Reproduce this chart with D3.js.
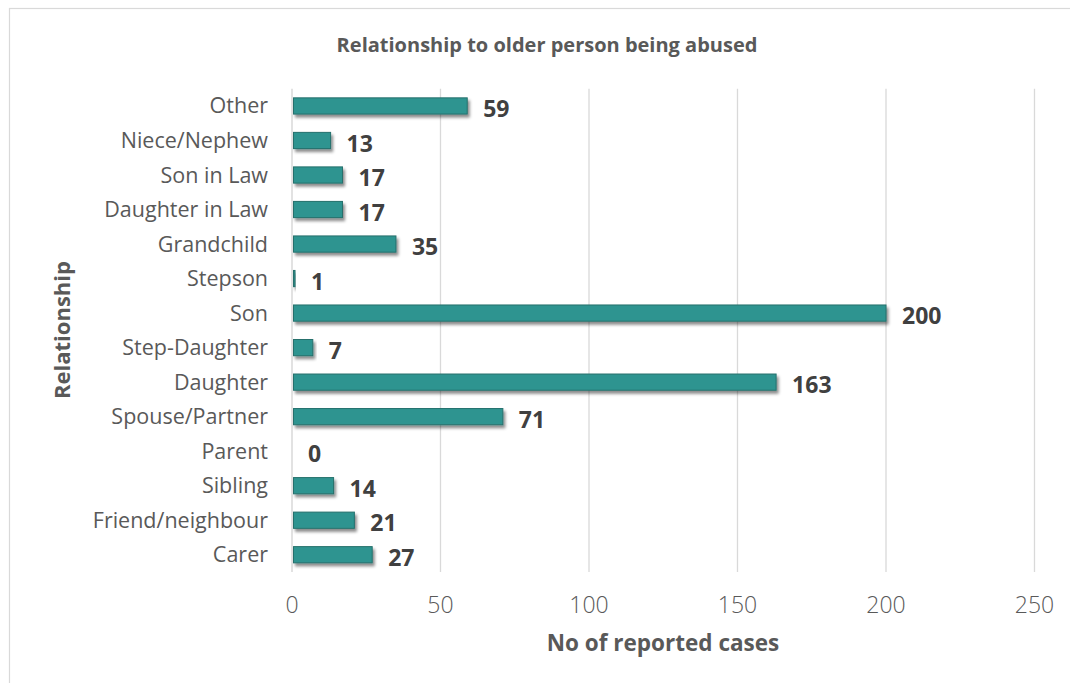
<!DOCTYPE html>
<html>
<head>
<meta charset="utf-8">
<script src="https://cdn.jsdelivr.net/npm/d3@7/dist/d3.min.js"></script>
<style>
  html, body { margin: 0; padding: 0; background: #fff; }
  svg { display: block; font-family: "Open Sans", "Noto Sans", sans-serif; }
</style>
</head>
<body>
<svg id="chart" width="1070" height="683"></svg>
<script>
// Relationship of the abuser to the older person, top to bottom
const categories = [
  "Other", "Niece/Nephew", "Son in Law", "Daughter in Law", "Grandchild",
  "Stepson", "Son", "Step-Daughter", "Daughter", "Spouse/Partner",
  "Parent", "Sibling", "Friend/neighbour", "Carer"
];
const cases = [59, 13, 17, 17, 35, 1, 200, 7, 163, 71, 0, 14, 21, 27];
const xTicks = [0, 50, 100, 150, 200, 250];

const titleText = "Relationship to older person being abused";
const xTitle = "No of reported cases";
const yTitle = "Relationship";

const svg = d3.select("#chart");
const W = 1070, H = 683;
const plot = { left: 292, right: 1034.5, top: 88.7, bottom: 572 };

// chart frame
svg.append("rect")
  .attr("x", 9.5).attr("y", 8.5)
  .attr("width", W + 10).attr("height", H + 10)
  .attr("fill", "#fff").attr("stroke", "#d9d9d9").attr("stroke-width", 1.2);

// soft drop shadow for the bars
const defs = svg.append("defs");
const f = defs.append("filter").attr("id", "barShadow")
  .attr("x", "-10%").attr("y", "-50%").attr("width", "130%").attr("height", "250%");
f.append("feDropShadow")
  .attr("dx", 2).attr("dy", 3).attr("stdDeviation", 1.8)
  .attr("flood-color", "#000").attr("flood-opacity", 0.45);

const x = d3.scaleLinear().domain([0, 250]).range([plot.left, plot.right]);
const y = d3.scaleBand().domain(categories)
  .range([plot.top, plot.bottom]).paddingInner(0.53).paddingOuter(0.265);

// vertical gridlines
svg.append("g").selectAll("line")
  .data(xTicks.filter(t => t > 0))
  .join("line")
  .attr("x1", d => x(d)).attr("x2", d => x(d))
  .attr("y1", plot.top).attr("y2", plot.bottom)
  .attr("stroke", "#d9d9d9").attr("stroke-width", 1.3);

// category axis line
svg.append("line")
  .attr("x1", x(0)).attr("x2", x(0))
  .attr("y1", plot.top).attr("y2", plot.bottom)
  .attr("stroke", "#d9d9d9").attr("stroke-width", 1.5);

// bars
svg.append("g").selectAll("rect")
  .data(categories.map((c, i) => ({ c, v: cases[i] })).filter(d => d.v > 0))
  .join("rect")
  .attr("x", x(0) + 1.5)
  .attr("y", d => y(d.c))
  .attr("width", d => Math.max(x(d.v) - x(0) - 1.5, 1.5))
  .attr("height", y.bandwidth())
  .attr("fill", "#2f9490")
  .attr("stroke", "#25706c").attr("stroke-width", 1)
  .attr("filter", "url(#barShadow)");

// value labels
svg.append("g").selectAll("text")
  .data(categories.map((c, i) => ({ c, v: cases[i] })))
  .join("text")
  .attr("x", d => x(d.v) + 16)
  .attr("y", d => y(d.c) + y.bandwidth() / 2 + 3)
  .attr("dy", "0.35em")
  .attr("fill", "#404040")
  .attr("font-size", 23).attr("font-weight", 700)
  .text(d => d.v);

// category labels
svg.append("g").selectAll("text")
  .data(categories)
  .join("text")
  .attr("x", 268)
  .attr("y", d => y(d) + y.bandwidth() / 2)
  .attr("dy", "0.35em")
  .attr("text-anchor", "end")
  .attr("fill", "#595959")
  .attr("font-size", 21.5).attr("font-weight", 400)
  .text(d => d);

// value axis tick labels
svg.append("g").selectAll("text")
  .data(xTicks)
  .join("text")
  .attr("x", d => x(d))
  .attr("y", 605)
  .attr("dy", "0.35em")
  .attr("text-anchor", "middle")
  .attr("fill", "#595959")
  .attr("font-size", 23).attr("font-weight", 300)
  .text(d => d);

// titles
svg.append("text")
  .attr("x", 547).attr("y", 45).attr("dy", "0.35em")
  .attr("text-anchor", "middle")
  .attr("fill", "#595959").attr("font-size", 20).attr("font-weight", 700)
  .text(titleText);

svg.append("text")
  .attr("x", 663).attr("y", 643).attr("dy", "0.35em")
  .attr("text-anchor", "middle")
  .attr("fill", "#595959").attr("font-size", 22.5).attr("font-weight", 700)
  .text(xTitle);

svg.append("text")
  .attr("transform", "translate(62,330) rotate(-90)")
  .attr("dy", "0.35em")
  .attr("text-anchor", "middle")
  .attr("fill", "#595959").attr("font-size", 22).attr("font-weight", 700)
  .text(yTitle);
</script>
</body>
</html>
